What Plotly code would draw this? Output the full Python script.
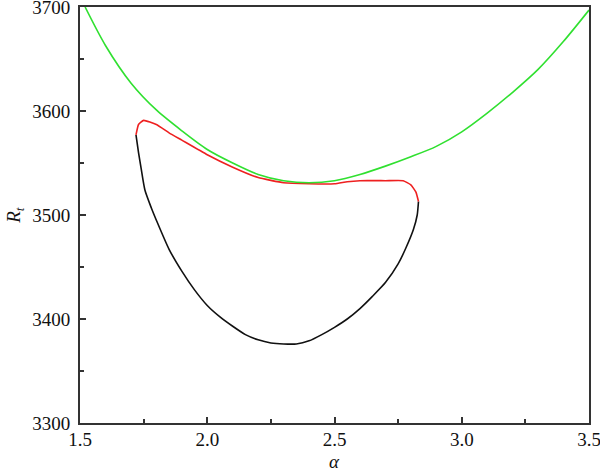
import plotly.graph_objects as go

# Green curve (upper boundary)
green_a = [1.52, 1.6, 1.7, 1.8, 1.9, 2.0, 2.1, 2.2, 2.3, 2.4, 2.5, 2.6, 2.7, 2.8, 2.9, 3.0, 3.1, 3.2, 3.3, 3.4, 3.5]
green_R = [3700, 3663, 3627, 3601, 3581, 3563, 3550, 3539, 3533, 3531, 3533, 3539, 3547, 3556, 3566, 3580, 3598, 3618, 3640, 3667, 3697]

# Red curve (top part of closed region)
red_a = [1.72, 1.73, 1.75, 1.8, 1.85, 1.9, 2.0, 2.1, 2.2, 2.3, 2.4, 2.5, 2.55, 2.6, 2.7, 2.77, 2.8, 2.82, 2.83]
red_R = [3577, 3587, 3591, 3587, 3579, 3572, 3558, 3546, 3536, 3531, 3530, 3530, 3532, 3533, 3533, 3533, 3529, 3522, 3513]

# Black curve (lower part of closed region)
black_a = [1.72, 1.73, 1.74, 1.755, 1.78, 1.80, 1.85, 1.90, 1.95, 2.00, 2.05, 2.10, 2.15, 2.20, 2.25, 2.30,
           2.35, 2.40, 2.45, 2.50, 2.55, 2.60, 2.65, 2.70, 2.75, 2.78, 2.81, 2.825, 2.83]
black_R = [3577, 3560, 3545, 3524, 3507, 3495, 3467, 3446, 3428, 3413, 3402, 3393, 3385, 3380, 3377, 3376,
           3376, 3379, 3385, 3392, 3400, 3410, 3422, 3435, 3453, 3468, 3486, 3500, 3513]

x_ticks = [1.5, 2.0, 2.5, 3.0, 3.5]
x_labels = ["1.5", "2.0", "2.5", "3.0", "3.5"]
y_ticks = [3300, 3400, 3500, 3600, 3700]
y_labels = ["3300", "3400", "3500", "3600", "3700"]

fig = go.Figure()
fig.add_trace(go.Scatter(x=black_a, y=black_R, mode="lines",
                         line=dict(color="#111111", width=1.6, shape="spline", smoothing=0.6),
                         showlegend=False))
fig.add_trace(go.Scatter(x=red_a, y=red_R, mode="lines",
                         line=dict(color="#ee2020", width=1.6, shape="spline", smoothing=0.4),
                         showlegend=False))
fig.add_trace(go.Scatter(x=green_a, y=green_R, mode="lines",
                         line=dict(color="#30e030", width=1.6, shape="spline", smoothing=0.8),
                         showlegend=False))

font_family = "Liberation Serif"
fig.update_layout(
    width=600, height=469,
    margin=dict(l=80, r=11, t=7, b=46),
    paper_bgcolor="white", plot_bgcolor="white",
    font=dict(family=font_family, size=19, color="#111111"),
    xaxis=dict(range=[1.5, 3.5], tickvals=x_ticks, ticktext=x_labels, automargin=False,
               showgrid=False, zeroline=False, showline=True, mirror=True,
               linecolor="#333333", linewidth=2, ticks="inside", ticklen=6,
               tickwidth=1.5, tickcolor="#333333", ticklabeloverflow="allow",
               ticklabelstandoff=-2,
               minor=dict(ticks="inside", dtick=0.25, tick0=1.5, ticklen=4, tickcolor="#333333", tickwidth=1.5)),
    yaxis=dict(range=[3300, 3700], tickvals=y_ticks, ticktext=y_labels, automargin=False,
               showgrid=False, zeroline=False, showline=True, mirror=True,
               linecolor="#333333", linewidth=2, ticks="inside", ticklen=6,
               tickwidth=1.5, tickcolor="#333333", ticklabelstandoff=4,
               ticklabeloverflow="allow",
               minor=dict(ticks="inside", dtick=50, tick0=3300, ticklen=4, tickcolor="#333333", tickwidth=1.5)),
    annotations=[
        dict(text="<i>α</i>", xref="paper", yref="paper", x=0.5, y=-0.093,
             xanchor="center", yanchor="middle", showarrow=False, font=dict(size=19)),
        dict(text="<i>R<sub>t</sub></i>", xref="paper", yref="paper", x=-0.128, y=0.5,
             xanchor="center", yanchor="middle", showarrow=False, textangle=-90, font=dict(size=19)),
    ],
)

fig.write_html("out.html",
               config={"displayModeBar": False},
               post_script="document.body.style.margin='0';document.body.style.overflow='hidden';")
